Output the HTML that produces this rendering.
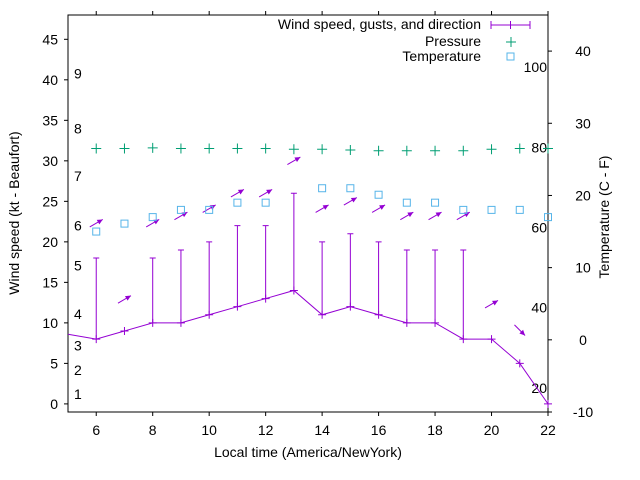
<!DOCTYPE html>
<html><head><meta charset="utf-8"><style>
body{margin:0;background:#fff}
svg{display:block;font-family:"Liberation Sans",sans-serif}
</style></head><body>
<svg id="chart" width="640" height="480" viewBox="0 0 640 480" xmlns="http://www.w3.org/2000/svg">
<g id="axes"></g>
<g id="marks"></g>
<g id="legend">
<text x="481" y="29" font-size="14" text-anchor="end">Wind speed, gusts, and direction</text>
<line x1="491" y1="25" x2="530" y2="25" stroke="#9400d3" stroke-width="1"/>
<line x1="491" y1="21" x2="491" y2="29" stroke="#9400d3"/><line x1="530" y1="21" x2="530" y2="29" stroke="#9400d3"/>
<line x1="510.5" y1="21" x2="510.5" y2="29" stroke="#9400d3"/>
<text x="481" y="46" font-size="14" text-anchor="end">Pressure</text>
<path d="M506 42H516M511 37V47" stroke="#009e73" stroke-width="1"/>
<text x="481" y="61" font-size="14" text-anchor="end">Temperature</text>
<rect x="507" y="53" width="7" height="7" fill="none" stroke="#56b4e9"/>
</g>
<text x="308" y="457" font-size="14" text-anchor="middle">Local time (America/NewYork)</text>
<text transform="translate(19,213) rotate(-90)" font-size="14" text-anchor="middle">Wind speed (kt - Beaufort)</text>
<text transform="translate(609,217) rotate(-90)" font-size="14" text-anchor="middle">Temperature (C - F)</text>
</svg>
<script>
const hours=[6,7,8,9,10,11,12,13,14,15,16,17,18,19,20,21,22];
const speed=[8,9,10,10,11,12,13,14,11,12,11,10,10,8,8,5,0];
const gust=[18,null,18,19,20,22,22,26,20,21,20,19,19,19,null,null,null];
const arrowY=[22.3,12.9,22.3,23.2,24.1,26,26,30,24.1,25,24.1,23.2,23.2,23.2,12.3,9.1,null];
const dirDeg=[60,60,60,60,60,60,60,60,60,60,60,60,60,60,60,135,null];
const pressure=[26.5,26.5,26.6,26.5,26.5,26.5,26.5,26.4,26.4,26.3,26.2,26.2,26.2,26.2,26.4,26.5,26.5];
const temperature=[15.0,16.1,17.0,18.0,18.0,19.0,19.0,null,21.0,21.0,20.1,19.0,19.0,18.0,18.0,18.0,17.0];
const xTicks=[6,8,10,12,14,16,18,20,22];
const yTicks=[0,5,10,15,20,25,30,35,40,45];
const y2Ticks=[-10,0,10,20,30,40];
const fTicks=[20,40,60,80,100];
const beaufort=[1,2,3,4,5,6,7,8,9];
const beaufortAt=[1.2,4.2,7.2,11.1,17.1,22,28.1,34,40.8];
const startSpeed=8.6;

const L=68,R=548,T=15,B=412;
const X=h=>L+(h-5)*(R-L)/17;
const Y=v=>B-(v+1)*(B-T)/49;
const Y2=c=>B-(c+10)*(B-T)/55;
const NS='http://www.w3.org/2000/svg';
function mk(p,tag,attrs){const e=document.createElementNS(NS,tag);for(const k in attrs)e.setAttribute(k,attrs[k]);p.appendChild(e);return e;}
const ax=document.getElementById('axes'),mk2=document.getElementById('marks');
let b=mk(ax,'rect',{x:L,y:T,width:R-L,height:B-T,fill:'none',stroke:'#000'});


xTicks.forEach(h=>{
 let l=mk(ax,'path',{d:`M${X(h)} ${B}v4M${X(h)} ${T}v-4`,stroke:'#000'});
 
 
 let t=mk(ax,'text',{x:X(h),y:B+23,'font-size':14,'text-anchor':'middle'});t.textContent=h;
 
 
});
yTicks.forEach(v=>{
 let l=mk(ax,'path',{d:`M${L} ${Y(v)}h-4`,stroke:'#000'});
 
 
 let t=mk(ax,'text',{x:L-10,y:Y(v)+5,'font-size':14,'text-anchor':'end'});t.textContent=v;
 
 
});
y2Ticks.forEach(v=>{
 let l=mk(ax,'path',{d:`M${R} ${Y2(v)}h4`,stroke:'#000'});
 
 
 let t=mk(ax,'text',{x:583,y:Y2(v)+5,'font-size':14,'text-anchor':'middle'});t.textContent=v;
 
 
});
fTicks.forEach(f=>{
 let t=mk(ax,'text',{x:R-1,y:Y2((f-32)*5/9)+5,'font-size':14,'text-anchor':'end'});t.textContent=f;
 
 
});
beaufort.forEach((n,i)=>{
 let t=mk(ax,'text',{x:74,y:Y(beaufortAt[i])+5,'font-size':14});t.textContent=n;
 
 
});
const P='#9400d3';
let pts=[[L,Y(startSpeed)]].concat(hours.map((h,i)=>[X(h),Y(speed[i])]));
let pl=mk(mk2,'polyline',{points:pts.map(p=>p.join(',')).join(' '),fill:'none',stroke:P});


hours.forEach((h,i)=>{
 const x=X(h),y=Y(speed[i]);
 let m=mk(mk2,'path',{d:`M${x-4} ${y}h8M${x} ${y-4}v8`,stroke:P});
 
 
 if(gust[i]!=null){
  const g=Y(gust[i]);
  let e=mk(mk2,'path',{d:`M${x} ${y}V${g}M${x-3} ${g}h6`,stroke:P});
  
  
 }
 if(arrowY[i]!=null){
  const a=dirDeg[i]*Math.PI/180,cx=x,cy=Y(arrowY[i]),len=15;
  const dx=Math.sin(a)*len/2,dy=-Math.cos(a)*len/2;
  const x1=cx-dx,y1=cy-dy,x2=cx+dx,y2=cy+dy;
  const ang=Math.atan2(y2-y1,x2-x1),h=6;
  const hx1=x2-h*Math.cos(ang-0.45),hy1=y2-h*Math.sin(ang-0.45),hx2=x2-h*Math.cos(ang+0.45),hy2=y2-h*Math.sin(ang+0.45);
  let g=mk(mk2,'g',{});
  
  
  mk(g,'line',{x1,y1,x2,y2,stroke:P});
  mk(g,'polygon',{points:`${x2},${y2} ${hx1},${hy1} ${hx2},${hy2}`,fill:P});
 }
 if(pressure[i]!=null){
  const py=Y2(pressure[i]);
  let p=mk(mk2,'path',{d:`M${x-5} ${py}h10M${x} ${py-5}v10`,stroke:'#009e73'});
  
  
 }
 if(temperature[i]!=null){
  const ty=Y2(temperature[i]);
  let r=mk(mk2,'rect',{x:x-3.5,y:ty-3.5,width:7,height:7,fill:'none',stroke:'#56b4e9'});
  
  
 }
});
</script>
</body></html>
